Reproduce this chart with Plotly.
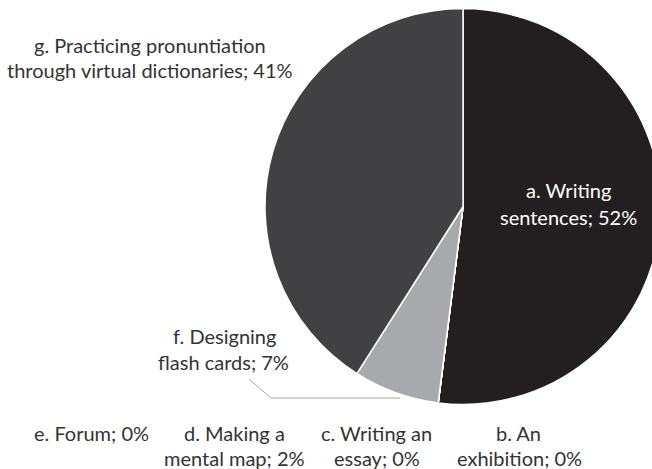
import plotly.graph_objects as go

# 数据
labels = ["a. Writing sentences", "b. An exhibition", "c. Writing an essay",
          "d. Making a mental map", "e. Forum", "f. Designing flash cards",
          "g. Practicing pronuntiation through virtual dictionaries"]
values = [52, 0, 0, 0, 0, 7, 41]
pct_text = ["52%", "0%", "0%", "2%", "0%", "7%", "41%"]
colors = ["#231f20", "#58595b", "#808285", "#6d6e71", "#939598", "#a7a9ac", "#414042"]

W, H = 662, 469


def px(x, y):
    return x / W, 1 - y / H


fig = go.Figure(go.Pie(
    labels=labels,
    values=values,
    sort=False,
    direction="clockwise",
    rotation=0,
    marker=dict(colors=colors, line=dict(color="white", width=1.5)),
    textinfo="none",
    hoverinfo="label+percent",
    showlegend=False,
    domain=dict(x=[265 / W, 661 / W], y=[64 / H, 461 / H]),
))

# 标签位置 (像素中心)
label_lines = [
    (568, 190, "a. Writing", "white"),
    (568, 217, "sentences; " + pct_text[0], "white"),
    (150, 45, "g. Practicing pronuntiation", "#333333"),
    (150, 70, "through virtual dictionaries; " + pct_text[6], "#333333"),
    (224, 336, "f. Designing", "#333333"),
    (223, 362, "flash cards; " + pct_text[5], "#333333"),
    (91, 433, "e. Forum; " + pct_text[4], "#333333"),
    (234, 433, "d. Making a", "#333333"),
    (234, 458, "mental map; " + pct_text[3], "#333333"),
    (376, 433, "c. Writing an", "#333333"),
    (377, 458, "essay; " + pct_text[2], "#333333"),
    (518, 433, "b. An", "#333333"),
    (519, 458, "exhibition; " + pct_text[1], "#333333"),
]
for x, y, t, c in label_lines:
    ax, ay = px(x, y)
    fig.add_annotation(x=ax, y=ay, xref="paper", yref="paper", text=t,
                       showarrow=False, xanchor="center", yanchor="middle",
                       font=dict(family="Lato", size=20, color=c))

# f 的引线
p = [px(249, 379), px(271, 398), px(400, 398)]
fig.add_shape(type="path", xref="paper", yref="paper",
              path=f"M {p[0][0]} {p[0][1]} L {p[1][0]} {p[1][1]} L {p[2][0]} {p[2][1]}",
              line=dict(color="#a6a6a6", width=1))

fig.update_layout(
    width=W, height=H,
    margin=dict(l=0, r=0, t=0, b=0),
    paper_bgcolor="white",
    plot_bgcolor="white",
)

fig.write_html("out.html", config={"displayModeBar": False},
               post_script="document.body.style.margin='0';document.body.style.overflow='hidden';")
